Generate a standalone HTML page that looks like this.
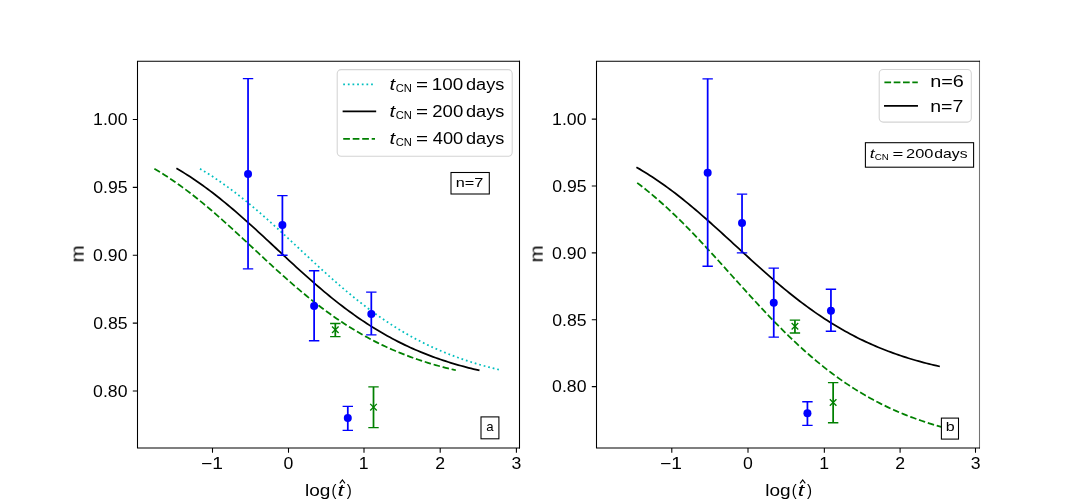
<!DOCTYPE html>
<html><head><meta charset="utf-8"><style>html,body{margin:0;padding:0;background:#fff;width:1088px;height:503px;overflow:hidden} svg text{will-change:transform}</style></head>
<body>
<svg width="1088" height="503" viewBox="0 0 1088 503" style="display:block" font-family='"Liberation Sans", sans-serif'>
<rect x="0" y="0" width="1088" height="503" fill="#fff"/>
<clipPath id="c137"><rect x="137.5" y="61.3" width="382.0" height="386.7"/></clipPath>
<g clip-path="url(#c137)" fill="none">
<path d="M199.97,168.78 L202.50,170.28 L205.04,171.81 L207.57,173.38 L210.10,174.98 L212.64,176.61 L215.17,178.28 L217.70,179.98 L220.24,181.72 L222.77,183.49 L225.30,185.29 L227.84,187.12 L230.37,188.99 L232.90,190.88 L235.44,192.81 L237.97,194.76 L240.50,196.75 L243.04,198.77 L245.57,200.81 L248.10,202.88 L250.63,204.97 L253.17,207.10 L255.70,209.24 L258.23,211.41 L260.77,213.60 L263.30,215.81 L265.83,218.04 L268.37,220.29 L270.90,222.56 L273.43,224.84 L275.97,227.14 L278.50,229.45 L281.03,231.77 L283.57,234.11 L286.10,236.45 L288.63,238.80 L291.17,241.15 L293.70,243.51 L296.23,245.88 L298.77,248.24 L301.30,250.60 L303.83,252.96 L306.36,255.32 L308.90,257.68 L311.43,260.03 L313.96,262.37 L316.50,264.70 L319.03,267.02 L321.56,269.33 L324.10,271.63 L326.63,273.92 L329.16,276.19 L331.70,278.44 L334.23,280.67 L336.76,282.89 L339.30,285.09 L341.83,287.27 L344.36,289.42 L346.90,291.55 L349.43,293.66 L351.96,295.75 L354.50,297.81 L357.03,299.84 L359.56,301.85 L362.09,303.83 L364.63,305.78 L367.16,307.71 L369.69,309.61 L372.23,311.48 L374.76,313.32 L377.29,315.13 L379.83,316.91 L382.36,318.66 L384.89,320.39 L387.43,322.08 L389.96,323.74 L392.49,325.37 L395.03,326.97 L397.56,328.55 L400.09,330.09 L402.63,331.60 L405.16,333.08 L407.69,334.53 L410.23,335.95 L412.76,337.35 L415.29,338.71 L417.82,340.05 L420.36,341.35 L422.89,342.63 L425.42,343.88 L427.96,345.10 L430.49,346.30 L433.02,347.47 L435.56,348.61 L438.09,349.72 L440.62,350.81 L443.16,351.88 L445.69,352.91 L448.22,353.93 L450.76,354.92 L453.29,355.88 L455.82,356.83 L458.36,357.75 L460.89,358.64 L463.42,359.52 L465.96,360.37 L468.49,361.20 L471.02,362.01 L473.55,362.80 L476.09,363.57 L478.62,364.32 L481.15,365.05 L483.69,365.76 L486.22,366.46 L488.75,367.13 L491.29,367.79 L493.82,368.43 L496.35,369.05 L498.89,369.66 L501.42,370.25" stroke="#00bfbf" stroke-width="1.75" stroke-dasharray="1.75 2.9"/>
<path d="M177.18,168.78 L179.71,170.28 L182.25,171.81 L184.78,173.38 L187.31,174.98 L189.85,176.61 L192.38,178.28 L194.91,179.98 L197.45,181.72 L199.98,183.49 L202.51,185.29 L205.04,187.12 L207.58,188.99 L210.11,190.88 L212.64,192.81 L215.18,194.76 L217.71,196.75 L220.24,198.77 L222.78,200.81 L225.31,202.88 L227.84,204.97 L230.38,207.10 L232.91,209.24 L235.44,211.41 L237.98,213.60 L240.51,215.81 L243.04,218.04 L245.58,220.29 L248.11,222.56 L250.64,224.84 L253.18,227.14 L255.71,229.45 L258.24,231.77 L260.78,234.11 L263.31,236.45 L265.84,238.80 L268.37,241.15 L270.91,243.51 L273.44,245.88 L275.97,248.24 L278.51,250.60 L281.04,252.96 L283.57,255.32 L286.11,257.68 L288.64,260.03 L291.17,262.37 L293.71,264.70 L296.24,267.02 L298.77,269.33 L301.31,271.63 L303.84,273.92 L306.37,276.19 L308.91,278.44 L311.44,280.67 L313.97,282.89 L316.51,285.09 L319.04,287.27 L321.57,289.42 L324.10,291.55 L326.64,293.66 L329.17,295.75 L331.70,297.81 L334.24,299.84 L336.77,301.85 L339.30,303.83 L341.84,305.78 L344.37,307.71 L346.90,309.61 L349.44,311.48 L351.97,313.32 L354.50,315.13 L357.04,316.91 L359.57,318.66 L362.10,320.39 L364.64,322.08 L367.17,323.74 L369.70,325.37 L372.24,326.97 L374.77,328.55 L377.30,330.09 L379.83,331.60 L382.37,333.08 L384.90,334.53 L387.43,335.95 L389.97,337.35 L392.50,338.71 L395.03,340.05 L397.57,341.35 L400.10,342.63 L402.63,343.88 L405.17,345.10 L407.70,346.30 L410.23,347.47 L412.77,348.61 L415.30,349.72 L417.83,350.81 L420.37,351.88 L422.90,352.91 L425.43,353.93 L427.97,354.92 L430.50,355.88 L433.03,356.83 L435.56,357.75 L438.10,358.64 L440.63,359.52 L443.16,360.37 L445.70,361.20 L448.23,362.01 L450.76,362.80 L453.30,363.57 L455.83,364.32 L458.36,365.05 L460.90,365.76 L463.43,366.46 L465.96,367.13 L468.50,367.79 L471.03,368.43 L473.56,369.05 L476.10,369.66 L478.63,370.25" stroke="#000" stroke-width="1.75" stroke-linecap="square"/>
<path d="M154.39,168.78 L156.92,170.28 L159.46,171.81 L161.99,173.38 L164.52,174.98 L167.05,176.61 L169.59,178.28 L172.12,179.98 L174.65,181.72 L177.19,183.49 L179.72,185.29 L182.25,187.12 L184.79,188.99 L187.32,190.88 L189.85,192.81 L192.39,194.76 L194.92,196.75 L197.45,198.77 L199.99,200.81 L202.52,202.88 L205.05,204.97 L207.59,207.10 L210.12,209.24 L212.65,211.41 L215.19,213.60 L217.72,215.81 L220.25,218.04 L222.78,220.29 L225.32,222.56 L227.85,224.84 L230.38,227.14 L232.92,229.45 L235.45,231.77 L237.98,234.11 L240.52,236.45 L243.05,238.80 L245.58,241.15 L248.12,243.51 L250.65,245.88 L253.18,248.24 L255.72,250.60 L258.25,252.96 L260.78,255.32 L263.32,257.68 L265.85,260.03 L268.38,262.37 L270.92,264.70 L273.45,267.02 L275.98,269.33 L278.51,271.63 L281.05,273.92 L283.58,276.19 L286.11,278.44 L288.65,280.67 L291.18,282.89 L293.71,285.09 L296.25,287.27 L298.78,289.42 L301.31,291.55 L303.85,293.66 L306.38,295.75 L308.91,297.81 L311.45,299.84 L313.98,301.85 L316.51,303.83 L319.05,305.78 L321.58,307.71 L324.11,309.61 L326.65,311.48 L329.18,313.32 L331.71,315.13 L334.25,316.91 L336.78,318.66 L339.31,320.39 L341.84,322.08 L344.38,323.74 L346.91,325.37 L349.44,326.97 L351.98,328.55 L354.51,330.09 L357.04,331.60 L359.58,333.08 L362.11,334.53 L364.64,335.95 L367.18,337.35 L369.71,338.71 L372.24,340.05 L374.78,341.35 L377.31,342.63 L379.84,343.88 L382.38,345.10 L384.91,346.30 L387.44,347.47 L389.98,348.61 L392.51,349.72 L395.04,350.81 L397.57,351.88 L400.11,352.91 L402.64,353.93 L405.17,354.92 L407.71,355.88 L410.24,356.83 L412.77,357.75 L415.31,358.64 L417.84,359.52 L420.37,360.37 L422.91,361.20 L425.44,362.01 L427.97,362.80 L430.51,363.57 L433.04,364.32 L435.57,365.05 L438.11,365.76 L440.64,366.46 L443.17,367.13 L445.71,367.79 L448.24,368.43 L450.77,369.05 L453.30,369.66 L455.84,370.25" stroke="#008000" stroke-width="1.75" stroke-dasharray="6.5 2.8"/>
<path d="M248.04,78.64 L248.04,268.82" stroke="#0000ff" stroke-width="1.75"/>
<path d="M242.84,78.64 h10.4 M242.84,268.82 h10.4" stroke="#0000ff" stroke-width="1.33"/>
<circle cx="248.04" cy="174.07" r="4" fill="#0000ff" stroke="none"/>
<path d="M282.40,195.66 L282.40,255.25" stroke="#0000ff" stroke-width="1.75"/>
<path d="M277.20,195.66 h10.4 M277.20,255.25 h10.4" stroke="#0000ff" stroke-width="1.33"/>
<circle cx="282.40" cy="224.98" r="4" fill="#0000ff" stroke="none"/>
<path d="M314.12,270.73 L314.12,340.77" stroke="#0000ff" stroke-width="1.75"/>
<path d="M308.92,270.73 h10.4 M308.92,340.77 h10.4" stroke="#0000ff" stroke-width="1.33"/>
<circle cx="314.12" cy="306.02" r="4" fill="#0000ff" stroke="none"/>
<path d="M371.31,292.17 L371.31,334.80" stroke="#0000ff" stroke-width="1.75"/>
<path d="M366.11,292.17 h10.4 M366.11,334.80 h10.4" stroke="#0000ff" stroke-width="1.33"/>
<circle cx="371.31" cy="314.03" r="4" fill="#0000ff" stroke="none"/>
<path d="M347.80,406.34 L347.80,430.37" stroke="#0000ff" stroke-width="1.75"/>
<path d="M342.60,406.34 h10.4 M342.60,430.37 h10.4" stroke="#0000ff" stroke-width="1.33"/>
<circle cx="347.80" cy="418.01" r="4" fill="#0000ff" stroke="none"/>
<path d="M335.31,323.53 L335.31,336.56" stroke="#008000" stroke-width="1.75"/>
<path d="M330.11,323.53 h10.4 M330.11,336.56 h10.4" stroke="#008000" stroke-width="1.33"/>
<path d="M332.01,326.48 l6.6,6.6 M332.01,333.08 l6.6,-6.6" stroke="#008000" stroke-width="1.33"/>
<path d="M373.51,386.93 L373.51,427.65" stroke="#008000" stroke-width="1.75"/>
<path d="M368.31,386.93 h10.4 M368.31,427.65 h10.4" stroke="#008000" stroke-width="1.33"/>
<path d="M370.21,403.85 l6.6,6.6 M370.21,410.45 l6.6,-6.6" stroke="#008000" stroke-width="1.33"/>
</g>
<path d="M137.5,448.53 V60.769999999999996 M136.97,61.3 H520.03 M136.97,448.0 H520.03" fill="none" stroke="#000" stroke-width="1.07"/>
<path d="M519.5,448.53 V60.769999999999996" fill="none" stroke="#000" stroke-opacity="1.0" stroke-width="1.07"/>
<path d="M132.80,391.00 H137.5 M132.80,323.12 H137.5 M132.80,255.25 H137.5 M132.80,187.38 H137.5 M132.80,119.50 H137.5 M212.50,448.0 V452.70 M288.50,448.0 V452.70 M364.00,448.0 V452.70 M440.20,448.0 V452.70 M516.40,448.0 V452.70" stroke="#000" stroke-width="1.07" fill="none"/>
<text transform="translate(93.11,396.85) scale(1.0837,1)" font-size="16.3">0.80</text>
<text transform="translate(93.16,328.98) scale(1.0837,1)" font-size="16.3">0.85</text>
<text transform="translate(93.11,261.10) scale(1.0837,1)" font-size="16.3">0.90</text>
<text transform="translate(93.16,193.23) scale(1.0837,1)" font-size="16.3">0.95</text>
<text transform="translate(93.11,125.35) scale(1.0837,1)" font-size="16.3">1.00</text>
<text transform="translate(201.05,468.50) scale(1.1775,1)" font-size="16.3" fill="#000">−1</text>
<text transform="translate(283.59,468.50) scale(1.0837,1)" font-size="16.3">0</text>
<text transform="translate(358.85,468.50) scale(1.0837,1)" font-size="16.3">1</text>
<text transform="translate(435.29,468.50) scale(1.0837,1)" font-size="16.3">2</text>
<text transform="translate(511.54,468.50) scale(1.0837,1)" font-size="16.3">3</text>
<text transform="translate(78.45,253.90) rotate(-90) scale(1.201,1.1) translate(-7.08,4.57)" font-size="17">m</text>
<clipPath id="c596"><rect x="596.5" y="61.3" width="383.0" height="386.7"/></clipPath>
<g clip-path="url(#c596)" fill="none">
<path d="M637.19,167.65 L639.73,169.13 L642.26,170.65 L644.80,172.19 L647.33,173.77 L649.87,175.39 L652.41,177.04 L654.94,178.72 L657.48,180.43 L660.01,182.18 L662.55,183.95 L665.09,185.76 L667.62,187.61 L670.16,189.48 L672.69,191.38 L675.23,193.31 L677.76,195.28 L680.30,197.27 L682.84,199.28 L685.37,201.33 L687.91,203.40 L690.44,205.49 L692.98,207.61 L695.52,209.76 L698.05,211.92 L700.59,214.10 L703.12,216.31 L705.66,218.53 L708.20,220.77 L710.73,223.02 L713.27,225.29 L715.80,227.58 L718.34,229.87 L720.88,232.17 L723.41,234.48 L725.95,236.80 L728.48,239.13 L731.02,241.46 L733.56,243.79 L736.09,246.13 L738.63,248.46 L741.16,250.79 L743.70,253.12 L746.24,255.44 L748.77,257.76 L751.31,260.07 L753.84,262.37 L756.38,264.67 L758.92,266.95 L761.45,269.21 L763.99,271.47 L766.52,273.71 L769.06,275.93 L771.60,278.13 L774.13,280.32 L776.67,282.49 L779.20,284.63 L781.74,286.76 L784.27,288.86 L786.81,290.94 L789.35,293.00 L791.88,295.03 L794.42,297.03 L796.95,299.01 L799.49,300.96 L802.03,302.89 L804.56,304.79 L807.10,306.66 L809.63,308.50 L812.17,310.31 L814.71,312.10 L817.24,313.85 L819.78,315.58 L822.31,317.27 L824.85,318.94 L827.39,320.58 L829.92,322.18 L832.46,323.76 L834.99,325.31 L837.53,326.82 L840.07,328.31 L842.60,329.77 L845.14,331.20 L847.67,332.60 L850.21,333.97 L852.75,335.31 L855.28,336.62 L857.82,337.91 L860.35,339.16 L862.89,340.39 L865.43,341.60 L867.96,342.77 L870.50,343.92 L873.03,345.04 L875.57,346.14 L878.11,347.21 L880.64,348.25 L883.18,349.27 L885.71,350.27 L888.25,351.24 L890.78,352.19 L893.32,353.12 L895.86,354.02 L898.39,354.90 L900.93,355.76 L903.46,356.60 L906.00,357.41 L908.54,358.21 L911.07,358.98 L913.61,359.74 L916.14,360.47 L918.68,361.19 L921.22,361.89 L923.75,362.57 L926.29,363.23 L928.82,363.88 L931.36,364.51 L933.90,365.12 L936.43,365.71 L938.97,366.29" stroke="#000" stroke-width="1.75" stroke-linecap="square"/>
<path d="M637.19,182.86 L639.75,184.80 L642.31,186.78 L644.87,188.80 L647.44,190.86 L650.00,192.96 L652.56,195.09 L655.12,197.27 L657.68,199.48 L660.24,201.72 L662.80,204.01 L665.37,206.33 L667.93,208.68 L670.49,211.07 L673.05,213.49 L675.61,215.94 L678.17,218.43 L680.73,220.94 L683.30,223.49 L685.86,226.06 L688.42,228.67 L690.98,231.29 L693.54,233.95 L696.10,236.62 L698.66,239.32 L701.23,242.04 L703.79,244.78 L706.35,247.54 L708.91,250.31 L711.47,253.10 L714.03,255.90 L716.60,258.71 L719.16,261.53 L721.72,264.36 L724.28,267.20 L726.84,270.04 L729.40,272.89 L731.96,275.73 L734.53,278.58 L737.09,281.42 L739.65,284.27 L742.21,287.10 L744.77,289.93 L747.33,292.75 L749.89,295.57 L752.46,298.37 L755.02,301.15 L757.58,303.93 L760.14,306.69 L762.70,309.43 L765.26,312.15 L767.82,314.85 L770.39,317.53 L772.95,320.19 L775.51,322.83 L778.07,325.44 L780.63,328.02 L783.19,330.58 L785.75,333.11 L788.32,335.62 L790.88,338.09 L793.44,340.53 L796.00,342.95 L798.56,345.33 L801.12,347.68 L803.68,350.00 L806.25,352.28 L808.81,354.53 L811.37,356.75 L813.93,358.93 L816.49,361.08 L819.05,363.20 L821.62,365.28 L824.18,367.32 L826.74,369.33 L829.30,371.30 L831.86,373.24 L834.42,375.15 L836.98,377.02 L839.55,378.85 L842.11,380.65 L844.67,382.41 L847.23,384.14 L849.79,385.84 L852.35,387.50 L854.91,389.12 L857.48,390.72 L860.04,392.28 L862.60,393.80 L865.16,395.30 L867.72,396.76 L870.28,398.19 L872.84,399.59 L875.41,400.96 L877.97,402.30 L880.53,403.60 L883.09,404.88 L885.65,406.13 L888.21,407.35 L890.77,408.54 L893.34,409.70 L895.90,410.84 L898.46,411.94 L901.02,413.03 L903.58,414.08 L906.14,415.11 L908.70,416.12 L911.27,417.10 L913.83,418.05 L916.39,418.99 L918.95,419.90 L921.51,420.78 L924.07,421.65 L926.64,422.49 L929.20,423.31 L931.76,424.11 L934.32,424.89 L936.88,425.65 L939.44,426.39 L942.00,427.11" stroke="#008000" stroke-width="1.75" stroke-dasharray="6.5 2.8"/>
<path d="M707.67,78.84 L707.67,266.22" stroke="#0000ff" stroke-width="1.75"/>
<path d="M702.47,78.84 h10.4 M702.47,266.22 h10.4" stroke="#0000ff" stroke-width="1.33"/>
<circle cx="707.67" cy="172.87" r="4" fill="#0000ff" stroke="none"/>
<path d="M742.03,194.13 L742.03,252.85" stroke="#0000ff" stroke-width="1.75"/>
<path d="M736.83,194.13 h10.4 M736.83,252.85 h10.4" stroke="#0000ff" stroke-width="1.33"/>
<circle cx="742.03" cy="223.02" r="4" fill="#0000ff" stroke="none"/>
<path d="M773.75,268.10 L773.75,337.11" stroke="#0000ff" stroke-width="1.75"/>
<path d="M768.55,268.10 h10.4 M768.55,337.11 h10.4" stroke="#0000ff" stroke-width="1.33"/>
<circle cx="773.75" cy="302.87" r="4" fill="#0000ff" stroke="none"/>
<path d="M830.94,289.23 L830.94,331.23" stroke="#0000ff" stroke-width="1.75"/>
<path d="M825.74,289.23 h10.4 M825.74,331.23 h10.4" stroke="#0000ff" stroke-width="1.33"/>
<circle cx="830.94" cy="310.76" r="4" fill="#0000ff" stroke="none"/>
<path d="M807.43,401.71 L807.43,425.39" stroke="#0000ff" stroke-width="1.75"/>
<path d="M802.23,401.71 h10.4 M802.23,425.39 h10.4" stroke="#0000ff" stroke-width="1.33"/>
<circle cx="807.43" cy="413.22" r="4" fill="#0000ff" stroke="none"/>
<path d="M794.94,320.13 L794.94,332.97" stroke="#008000" stroke-width="1.75"/>
<path d="M789.74,320.13 h10.4 M789.74,332.97 h10.4" stroke="#008000" stroke-width="1.33"/>
<path d="M791.64,322.98 l6.6,6.6 M791.64,329.58 l6.6,-6.6" stroke="#008000" stroke-width="1.33"/>
<path d="M833.14,382.59 L833.14,422.71" stroke="#008000" stroke-width="1.75"/>
<path d="M827.94,382.59 h10.4 M827.94,422.71 h10.4" stroke="#008000" stroke-width="1.33"/>
<path d="M829.84,399.22 l6.6,6.6 M829.84,405.82 l6.6,-6.6" stroke="#008000" stroke-width="1.33"/>
</g>
<path d="M596.5,448.53 V60.769999999999996 M595.97,61.3 H980.03 M595.97,448.0 H980.03" fill="none" stroke="#000" stroke-width="1.07"/>
<path d="M979.5,448.53 V60.769999999999996" fill="none" stroke="#000" stroke-opacity="0.55" stroke-width="1.07"/>
<path d="M591.80,386.60 H596.5 M591.80,319.73 H596.5 M591.80,252.85 H596.5 M591.80,185.98 H596.5 M591.80,119.10 H596.5 M671.80,448.0 V452.70 M748.00,448.0 V452.70 M824.35,448.0 V452.70 M900.10,448.0 V452.70 M975.50,448.0 V452.70" stroke="#000" stroke-width="1.07" fill="none"/>
<text transform="translate(552.11,392.45) scale(1.0837,1)" font-size="16.3">0.80</text>
<text transform="translate(552.16,325.58) scale(1.0837,1)" font-size="16.3">0.85</text>
<text transform="translate(552.11,258.70) scale(1.0837,1)" font-size="16.3">0.90</text>
<text transform="translate(552.16,191.83) scale(1.0837,1)" font-size="16.3">0.95</text>
<text transform="translate(552.11,124.95) scale(1.0837,1)" font-size="16.3">1.00</text>
<text transform="translate(660.05,468.50) scale(1.1775,1)" font-size="16.3" fill="#000">−1</text>
<text transform="translate(743.09,468.50) scale(1.0837,1)" font-size="16.3">0</text>
<text transform="translate(819.20,468.50) scale(1.0837,1)" font-size="16.3">1</text>
<text transform="translate(895.19,468.50) scale(1.0837,1)" font-size="16.3">2</text>
<text transform="translate(970.64,468.50) scale(1.0837,1)" font-size="16.3">3</text>
<text transform="translate(537.45,253.90) rotate(-90) scale(1.201,1.1) translate(-7.08,4.57)" font-size="17">m</text>
<text transform="translate(304.92,495.90) scale(1.1201,1)" font-size="17" fill="#000">log</text>
<text transform="translate(331.49,495.90) scale(0.8653,1)" font-size="17" fill="#000">(</text>
<text transform="translate(337.45,495.90) scale(1.3655,1)" font-size="17" font-style="italic" fill="#000">t</text>
<path d="M339.80,483.30 l2.6,-3.4 l2.6,3.4" fill="none" stroke="#000" stroke-width="1.1"/>
<text transform="translate(346.71,495.90) scale(0.8874,1)" font-size="17" fill="#000">)</text>
<text transform="translate(765.22,495.90) scale(1.1201,1)" font-size="17" fill="#000">log</text>
<text transform="translate(791.79,495.90) scale(0.8653,1)" font-size="17" fill="#000">(</text>
<text transform="translate(797.75,495.90) scale(1.3655,1)" font-size="17" font-style="italic" fill="#000">t</text>
<path d="M800.10,483.30 l2.6,-3.4 l2.6,3.4" fill="none" stroke="#000" stroke-width="1.1"/>
<text transform="translate(807.01,495.90) scale(0.8874,1)" font-size="17" fill="#000">)</text>
<rect x="337.2" y="69.6" width="175.0" height="86.7" rx="4" fill="#fff" fill-opacity="0.8" stroke="#d4d4d4" stroke-width="1.07"/>
<path d="M343.2,84.3 H375" stroke="#00bfbf" stroke-width="1.75" stroke-dasharray="1.75 2.9" fill="none"/>
<path d="M343.5,111.3 H375.3" stroke="#000" stroke-width="1.75" stroke-linecap="square" fill="none"/>
<path d="M343.2,138.8 H375" stroke="#008000" stroke-width="1.75" stroke-dasharray="6.7 2.8" fill="none"/>
<text transform="translate(389.56,89.60) scale(1.2870,1)" font-size="16" font-style="italic" fill="#000">t</text>
<text transform="translate(395.73,91.60) scale(1.0004,1)" font-size="11.2" fill="#000">CN</text>
<text transform="translate(415.99,89.60) scale(1.2864,1)" font-size="16" fill="#000">=</text>
<text transform="translate(431.76,89.60) scale(1.1790,1)" font-size="16" fill="#000">100</text>
<text transform="translate(465.94,89.60) scale(1.1368,1)" font-size="16" fill="#000">days</text>
<text transform="translate(389.56,116.90) scale(1.2870,1)" font-size="16" font-style="italic" fill="#000">t</text>
<text transform="translate(395.73,118.90) scale(1.0004,1)" font-size="11.2" fill="#000">CN</text>
<text transform="translate(415.99,116.90) scale(1.2864,1)" font-size="16" fill="#000">=</text>
<text transform="translate(432.27,116.90) scale(1.1597,1)" font-size="16" fill="#000">200</text>
<text transform="translate(465.94,116.90) scale(1.1368,1)" font-size="16" fill="#000">days</text>
<text transform="translate(389.56,144.20) scale(1.2870,1)" font-size="16" font-style="italic" fill="#000">t</text>
<text transform="translate(395.73,146.20) scale(1.0004,1)" font-size="11.2" fill="#000">CN</text>
<text transform="translate(415.99,144.20) scale(1.2864,1)" font-size="16" fill="#000">=</text>
<text transform="translate(432.78,144.20) scale(1.1399,1)" font-size="16" fill="#000">400</text>
<text transform="translate(465.94,144.20) scale(1.1368,1)" font-size="16" fill="#000">days</text>
<rect x="451.0" y="172.5" width="38.3" height="21.5" fill="#fff" stroke="#000" stroke-width="1.07"/>
<text transform="translate(455.82,187.10) scale(1.2142,1)" font-size="13.4" fill="#000">n=7</text>
<rect x="481.0" y="416.9" width="17.9" height="21.9" fill="#fff" stroke="#000" stroke-width="1.07"/>
<text transform="translate(486.14,431.20) scale(0.9879,1)" font-size="13.4" fill="#000">a</text>
<rect x="941.4" y="418.1" width="17.1" height="21.0" fill="#fff" stroke="#000" stroke-width="1.07"/>
<text transform="translate(945.67,431.00) scale(1.1948,1)" font-size="13.4" fill="#000">b</text>
<rect x="879.2" y="69.5" width="92.1" height="52.6" rx="4" fill="#fff" fill-opacity="0.8" stroke="#d4d4d4" stroke-width="1.07"/>
<path d="M884.4,82.35 H917.8" stroke="#008000" stroke-width="1.75" stroke-dasharray="6.7 2.6" fill="none"/>
<path d="M884.9,105.8 H917.1" stroke="#000" stroke-width="1.75" stroke-linecap="square" fill="none"/>
<text transform="translate(930.18,87.40) scale(1.2414,1)" font-size="16" fill="#000">n=6</text>
<text transform="translate(930.21,111.60) scale(1.2187,1)" font-size="16" fill="#000">n=7</text>
<rect x="865.4" y="142.7" width="108.2" height="24.5" fill="#fff" stroke="#000" stroke-width="1.07"/>
<text transform="translate(869.80,158.40) scale(1.3132,1)" font-size="13.4" font-style="italic" fill="#000">t</text>
<text transform="translate(874.70,160.00) scale(1.0379,1)" font-size="9.4" fill="#000">CN</text>
<text transform="translate(892.60,157.60) scale(1.3824,1)" font-size="13.4" fill="#000">=</text>
<text transform="translate(906.08,158.40) scale(1.2240,1)" font-size="13.4" fill="#000">200</text>
<text transform="translate(934.34,158.40) scale(1.1740,1)" font-size="13.4" fill="#000">days</text>
</svg>
</body></html>
